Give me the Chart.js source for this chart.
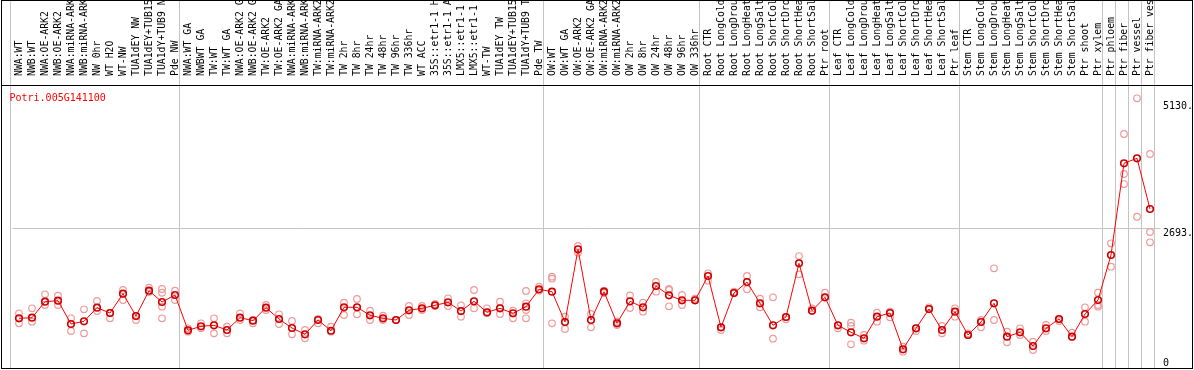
<!DOCTYPE html>
<html>
<head>
<meta charset="utf-8">
<title>Potri.005G141100</title>
<script src="https://cdn.jsdelivr.net/npm/chart.js@4"></script>
<style>
  html, body { margin: 0; padding: 0; background: #fff; }
  #wrap { width: 1194px; height: 370px; position: relative; }
</style>
</head>
<body>
<div id="wrap"><canvas id="chart"></canvas></div>
<script>
// Gene shown in the plot
const geneName = 'Potri.005G141100';

// Sample names, in plotting order
const samples = [
  'NWA:WT', 'NWB:WT', 'NWA:OE-ARK2', 'NWB:OE-ARK2', 'NWA:miRNA-ARK2', 'NWB:miRNA-ARK2',
  'NW 0hr', 'WT H2O', 'WT-NW', 'TUA1dEY NW', 'TUA1dEY+TUB15 NW', 'TUA1dY+TUB9 NW', 'Pde NW',
  'NWA:WT GA', 'NWBWT GA', 'TW:WT', 'TW:WT GA', 'NWA:OE-ARK2 GA', 'NWB:OE-ARK2 GA',
  'TW:OE-ARK2', 'TW:OE-ARK2 GA', 'NWA:miRNA-ARK2', 'NWB:miRNA-ARK2', 'TW:miRNA-ARK2', 'TW:miRNA-ARK2',
  'TW 2hr', 'TW 8hr', 'TW 24hr', 'TW 48hr', 'TW 96hr', 'TW 336hr', 'WT ACC',
  '35S::etr1-1 H2O', '35S::etr1-1 ACC', 'LMX5::etr1-1 H2O', 'LMX5::etr1-1 ACC',
  'WT-TW', 'TUA1dEY TW', 'TUA1dEY+TUB15 TW', 'TUA1dY+TUB9 TW', 'Pde TW',
  'OW:WT', 'OW:WT GA', 'OW:OE-ARK2', 'OW:OE-ARK2 GA', 'OW:miRNA-ARK2', 'OW:miRNA-ARK2',
  'OW 2hr', 'OW 8hr', 'OW 24hr', 'OW 48hr', 'OW 96hr', 'OW 336hr',
  'Root CTR', 'Root LongCold', 'Root LongDrought', 'Root LongHeat', 'Root LongSalt',
  'Root ShortCold', 'Root ShortDrought', 'Root ShortHeat', 'Root ShortSalt', 'Ptr root',
  'Leaf CTR', 'Leaf LongCold', 'Leaf LongDrought', 'Leaf LongHeat', 'Leaf LongSalt',
  'Leaf ShortCold', 'Leaf ShortDrought', 'Leaf ShortHeat', 'Leaf ShortSalt', 'Ptr leaf',
  'Stem CTR', 'Stem LongCold', 'Stem LongDrought', 'Stem LongHeat', 'Stem LongSalt',
  'Stem ShortCold', 'Stem ShortDrought', 'Stem ShortHeat', 'Stem ShortSalt', 'Ptr shoot', 'Ptr xylem',
  'Ptr phloem', 'Ptr fiber', 'Ptr vessel', 'Ptr fiber vessel'
];

// Index of the first sample of each experiment group (last entry closes the final group)
const groupStarts = [0, 13, 41, 53, 63, 73, 84, 85, 86, 87, 88];

// Mean expression per sample
const meanValues = [
  956, 968, 1275, 1295, 846, 898, 1160, 1058, 1429, 1000, 1487, 1270, 1404,
  725, 802, 821, 731, 968, 910, 1160, 943, 769, 648, 923, 717, 1168, 1168, 1014,
  956, 923, 1110, 1148, 1206, 1264, 1096, 1283, 1071, 1148, 1052, 1179, 1514,
  1468, 885, 2283, 923, 1468, 860, 1283, 1168, 1577, 1398, 1302, 1302,
  1770, 783, 1443, 1654, 1245, 821, 981, 2014, 1102, 1360,
  821, 687, 571, 987, 1058, 360, 764, 1135, 731, 1083,
  635, 885, 1245, 602, 687, 423, 764, 943, 602, 1039, 1308,
  2174, 3938, 4034, 3059
];

// Individual replicate values per sample
const replicates = [
  [1052, 860], [1148, 891], [1418, 1212], [1391, 1212], [956, 712], [1129, 667],
  [1289, 1096], [956, 1058], [1500, 1308], [923, 1000], [1545, 1462],
  [1520, 1448, 1179, 956], [1487, 1308],
  [764, 698], [860, 764], [956, 667], [794, 667], [1052, 923], [923, 860],
  [1212, 1116], [1033, 846], [904, 648], [731, 571], [943, 860], [794, 698],
  [1256, 1020], [1327, 1033], [1102, 923], [1006, 923], [923], [1193, 1020],
  [1193, 1116], [1231, 1193], [1341, 1193], [1206, 987], [1500, 1148],
  [1148, 1052], [1275, 1039], [1102, 956], [1481, 1245, 1116, 956], [1564, 1487],
  [1756, 1718, 860], [987, 750], [2347, 2218], [1039, 783], [1487, 1443],
  [891, 827], [1398, 1154], [1256, 1083], [1654, 1468], [1520, 1500, 1187],
  [1404, 1212], [1333, 1302],
  [1822, 1679], [731, 783], [1468, 1443], [1770, 1514], [1333, 1168],
  [1360, 564], [937, 981], [2154, 1802], [1148, 1102], [1448, 1360],
  [764, 821], [871, 808, 456], [635, 525], [1064, 891], [1083, 975],
  [410, 314], [712, 764], [1168, 1135], [808, 667], [1148, 987],
  [667, 635], [783, 923], [1918, 923], [698, 494], [764, 635], [506, 346],
  [827, 712], [904, 943], [679, 602], [1168, 891], [1448, 1212, 1179],
  [2399, 1949], [4501, 3732, 3539], [5188, 2910], [4117, 2616, 2418]
];

// Value axis ticks and their printed labels
const yTicks = [0, 2693, 5130];
const yTickLabels = ['0', '2693.', '5130.'];

const monoFont = '"DejaVu Sans Mono", monospace';

// replicates sit on the linear helper axis, sample i spans [i, i + 1]
const replicatePoints = replicates.flatMap((vals, i) => vals.map(v => ({ x: i + 0.5, y: v })));

// Outer frame, header divider and the gene name
const framePlugin = {
  id: 'frame',
  afterDraw(chart) {
    const { ctx, chartArea, width } = chart;
    ctx.save();
    ctx.strokeStyle = '#000';
    ctx.lineWidth = 1;
    ctx.strokeRect(1.5, 0.5, width - 3, chartArea.bottom);
    ctx.beginPath();
    ctx.moveTo(1, chartArea.top + 0.5);
    ctx.lineTo(width - 1, chartArea.top + 0.5);
    ctx.stroke();
    ctx.fillStyle = '#ff0000';
    ctx.font = '10px ' + monoFont;
    ctx.textBaseline = 'top';
    ctx.fillText(geneName, chartArea.left - 3, chartArea.top + 8);
    ctx.restore();
  }
};

function noPadding(s) {
  s.paddingTop = 0;
  s.paddingBottom = 0;
  s.paddingLeft = 0;
  s.paddingRight = 0;
}

new Chart(document.getElementById('chart'), {
  type: 'line',
  data: {
    labels: samples,
    datasets: [
      {
        label: 'mean',
        data: meanValues,
        borderColor: '#ff0000',
        borderWidth: 1,
        tension: 0,
        pointRadius: 3.3,
        pointBorderWidth: 1.6,
        pointBorderColor: '#cc0000',
        pointBackgroundColor: 'rgba(0,0,0,0)'
      },
      {
        label: 'replicates',
        xAxisID: 'xg',
        data: replicatePoints,
        showLine: false,
        pointRadius: 3.3,
        pointBorderWidth: 1.2,
        pointBorderColor: '#ef9a9a',
        pointBackgroundColor: 'rgba(0,0,0,0)'
      }
    ]
  },
  options: {
    responsive: true,
    maintainAspectRatio: false,
    animation: false,
    layout: { autoPadding: false, padding: { left: 12.5, right: 0, top: 0, bottom: 2 } },
    plugins: {
      legend: { display: false },
      tooltip: { enabled: false }
    },
    scales: {
      x: {
        type: 'category',
        position: 'top',
        weight: 1,
        offset: true,
        grid: { display: false },
        border: { display: false },
        ticks: {
          autoSkip: false,
          minRotation: 90,
          maxRotation: 90,
          padding: 1,
          labelOffset: 12,
          color: '#000',
          font: { family: monoFont, size: 9.8 }
        },
        afterFit: s => { s.height = 85; noPadding(s); }
      },
      xg: {
        type: 'linear',
        position: 'top',
        weight: 0,
        min: 0,
        max: samples.length,
        border: { display: false },
        grid: { color: '#c4c4c4', lineWidth: 1, drawTicks: true, tickLength: 85 },
        ticks: { display: false },
        afterBuildTicks: s => { s.ticks = groupStarts.map(g => ({ value: g - 2.5 / 13 })); },
        afterFit: s => { s.height = 0; noPadding(s); }
      },
      y: {
        type: 'linear',
        position: 'right',
        min: 0,
        max: 5444,
        border: { display: false },
        grid: {
          color: c => (c.tick && c.tick.value === yTicks[1]) ? '#c4c4c4' : 'rgba(0,0,0,0)',
          drawTicks: true,
          tickLength: 4
        },
        ticks: {
          padding: 2.5,
          color: '#000',
          font: { family: monoFont, size: 10, lineHeight: 1 },
          callback: v => {
            const t = yTickLabels[yTicks.indexOf(v)];
            return v === 0 ? [t, ''] : ['', t];
          }
        },
        afterBuildTicks: s => { s.ticks = yTicks.map(v => ({ value: v })); },
        afterFit: s => { s.width = 37.5; noPadding(s); }
      }
    }
  },
  plugins: [framePlugin]
});
</script>
</body>
</html>
